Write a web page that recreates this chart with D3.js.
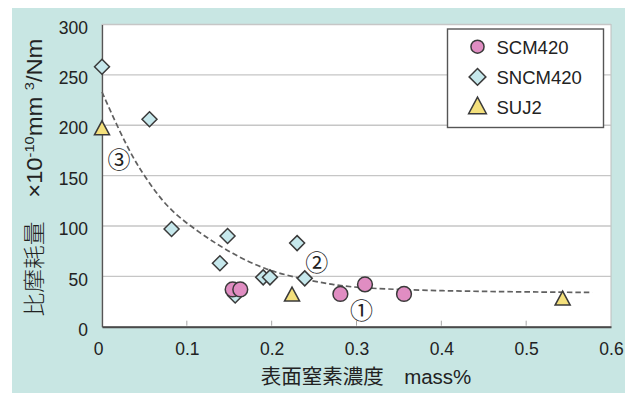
<!DOCTYPE html>
<html>
<head>
<meta charset="utf-8">
<script src="https://cdn.jsdelivr.net/npm/d3@7"></script>
<style>
  html, body { margin: 0; padding: 0; background: #ffffff; }
  svg { display: block; }
  text { font-family: "Liberation Sans", Arial, sans-serif; fill: #222; font-weight: normal; }
  .cjk { font-family: "Noto Sans CJK JP", "Noto Sans CJK SC", sans-serif; font-weight: 400; }
  .cjk-light { font-family: "Noto Sans CJK JP", "Noto Sans CJK SC", sans-serif; font-weight: 300; }
</style>
</head>
<body>
<svg id="chart" width="635" height="393"></svg>
<script>
// Specific wear rate vs. surface nitrogen concentration
const scmX  = [0.154, 0.163, 0.281, 0.310, 0.356];
const scmY  = [37, 37, 32.5, 42, 32.5];
const sncmX = [0, 0.056, 0.082, 0.139, 0.148, 0.157, 0.190, 0.198, 0.230, 0.239];
const sncmY = [258, 206, 97, 63, 90, 31, 49, 49, 83, 48];
const sujX  = [0, 0.224, 0.543];
const sujY  = [196, 31, 27];

// trend curve (dashed)
const trendX = [0, 0.019, 0.037, 0.049, 0.076, 0.115, 0.154, 0.194, 0.233, 0.272, 0.31, 0.4, 0.5, 0.578];
const trendY = [233, 197, 167, 151, 118, 93, 72, 56, 48, 41.5, 38, 35.5, 34.5, 34];

const xTicks = [0, 0.1, 0.2, 0.3, 0.4, 0.5, 0.6];
const yTicks = [0, 50, 100, 150, 200, 250, 300];

const seriesNames = ["SCM420", "SNCM420", "SUJ2"];

// circled labels on the curve
const noteLabels = ["③", "②", "①"];
const noteX = [0.02, 0.253, 0.306];
const noteY = [167, 65, 18];

const svg = d3.select("#chart");

// background panel
svg.append("rect").attr("x", 12).attr("y", 8).attr("width", 613).attr("height", 385).attr("fill", "#c8e6e3");

const x = d3.scaleLinear().domain([0, 0.6]).range([102, 611]);
const y = d3.scaleLinear().domain([0, 300]).range([326.7, 24.5]);

// plot area
svg.append("rect").attr("x", x(0)).attr("y", y(300)).attr("width", x(0.6) - x(0)).attr("height", y(0) - y(300))
  .attr("fill", "#ffffff").attr("stroke", "#bdbdbd").attr("stroke-width", 1);

// gridlines
svg.append("g").selectAll("line").data(yTicks.filter(d => d > 0)).join("line")
  .attr("x1", x(0)).attr("x2", x(0.6)).attr("y1", d => y(d)).attr("y2", d => y(d))
  .attr("stroke", "#c6c6c6").attr("stroke-width", 1.4);

// y axis
const yAxis = svg.append("g").attr("transform", `translate(${x(0)},0)`)
  .call(d3.axisLeft(y).tickValues(yTicks).tickSize(0).tickPadding(14).tickFormat(d3.format("d")));
yAxis.select(".domain").attr("stroke", "#555").attr("stroke-width", 1.3);
yAxis.selectAll("text").attr("font-size", 17.5).attr("dy", "0.5em").attr("fill", "#222")
  .style("font-family", '"Liberation Sans", Arial, sans-serif');

// x axis
const xAxis = svg.append("g").attr("transform", `translate(0,${y(0)})`)
  .call(d3.axisBottom(x).tickValues(xTicks).tickSize(0).tickPadding(16).tickFormat(d => d === 0 ? "0" : d3.format(".1f")(d)));
xAxis.select(".domain").attr("stroke", "#4a4a4a").attr("stroke-width", 2);
xAxis.selectAll("text").attr("font-size", 17.5).attr("fill", "#222")
  .style("font-family", '"Liberation Sans", Arial, sans-serif')
  .attr("dx", d => d === 0 ? -4 : 0);
// small inner tick marks
svg.append("g").selectAll("line").data(xTicks.filter(d => d > 0 && d < 0.6)).join("line")
  .attr("x1", d => x(d)).attr("x2", d => x(d)).attr("y1", y(0) - 6).attr("y2", y(0) - 1)
  .attr("stroke", "#a8a8a8").attr("stroke-width", 1);

// trend curve
const line = d3.line().x((d, i) => x(trendX[i])).y((d, i) => y(trendY[i])).curve(d3.curveBasis);
svg.append("path").datum(trendX).attr("d", line).attr("fill", "none")
  .attr("stroke", "#606060").attr("stroke-width", 1.7).attr("stroke-dasharray", "5.5,3");

// marker shapes
const diamondType = { draw(ctx, size) { const r = Math.sqrt(size / 2); ctx.moveTo(0, -r); ctx.lineTo(r, 0); ctx.lineTo(0, r); ctx.lineTo(-r, 0); ctx.closePath(); } };
const triangleType = { draw(ctx, size) { const w = Math.sqrt(size * 2.1); const h = w * 0.93; ctx.moveTo(0, -h * 0.6); ctx.lineTo(w / 2, h * 0.4); ctx.lineTo(-w / 2, h * 0.4); ctx.closePath(); } };

const styles = {
  SCM420:  { fill: "#e08dc2", type: d3.symbolCircle },
  SNCM420: { fill: "#c6e8ec", type: diamondType },
  SUJ2:    { fill: "#f4e07c", type: triangleType }
};
const strokeCol = "#3a3a3a";

function drawSeries(xs, ys, name, size) {
  const st = styles[name];
  svg.append("g").selectAll("path").data(xs).join("path")
    .attr("transform", (d, i) => `translate(${x(d)},${y(ys[i])})`)
    .attr("d", d3.symbol().type(st.type).size(size))
    .attr("fill", st.fill).attr("stroke", strokeCol).attr("stroke-width", 1.5);
}
drawSeries(sncmX, sncmY, "SNCM420", 112);
drawSeries(scmX, scmY, "SCM420", 172);
drawSeries(sujX, sujY, "SUJ2", 108);

// circled labels
svg.append("g").selectAll("text").data(noteLabels).join("text")
  .attr("class", "cjk")
  .attr("x", (d, i) => x(noteX[i])).attr("y", (d, i) => y(noteY[i]))
  .attr("text-anchor", "middle").attr("dominant-baseline", "central")
  .attr("font-size", 23).text(d => d);

// legend
const lg = svg.append("g");
lg.append("rect").attr("x", 447.5).attr("y", 29).attr("width", 156).attr("height", 98.5)
  .attr("fill", "#fff").attr("stroke", "#555").attr("stroke-width", 1.4);
const legSizes = [135, 140, 150];
seriesNames.forEach((name, i) => {
  const cy = 46.7 + i * 30.2;
  lg.append("path").attr("transform", `translate(477.5,${cy})`)
    .attr("d", d3.symbol().type(styles[name].type).size(legSizes[i]))
    .attr("fill", styles[name].fill).attr("stroke", strokeCol).attr("stroke-width", 1.5);
  lg.append("text").attr("x", 496.5).attr("y", cy + 7).attr("font-size", 18.5).text(name);
});

// axis titles
svg.append("text").attr("x", 366).attr("y", 384).attr("text-anchor", "middle").attr("font-size", 20.5)
  .attr("fill", "#2a2a2a")
  .call(t => {
    t.append("tspan").attr("class", "cjk").text("表面窒素濃度　");
    t.append("tspan").text("mass%");
  });

svg.append("text").attr("transform", "translate(42,177.5) rotate(-90) scale(1.08,1)")
  .attr("text-anchor", "middle").attr("font-size", 22).attr("fill", "#2a2a2a")
  .call(t => {
    t.append("tspan").attr("class", "cjk-light").text("比摩耗量　");
    t.append("tspan").text("×10");
    t.append("tspan").attr("font-size", 13.5).attr("dy", -8.5).text("-10");
    t.append("tspan").attr("dy", 8.5).text("mm ");
    t.append("tspan").attr("font-size", 13.5).attr("dy", -8.5).text("3");
    t.append("tspan").attr("dy", 8.5).text("/Nm");
  });
</script>
</body>
</html>
